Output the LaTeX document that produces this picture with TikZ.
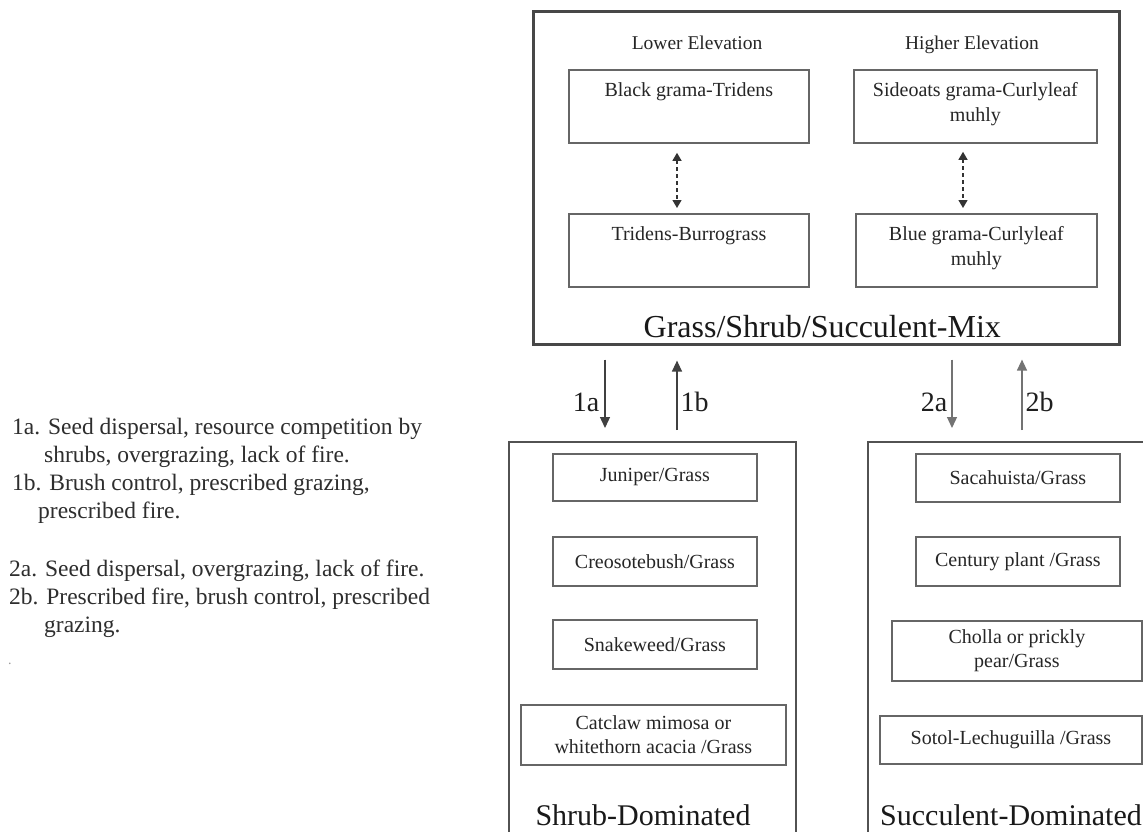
\documentclass[tikz,border=0pt]{standalone}
\usepackage{fontspec}
\setmainfont{Liberation Serif}
\usetikzlibrary{arrows.meta,calc}
\begin{document}
\begin{tikzpicture}[x=1pt,y=-1pt,
  mixbox/.style={draw=black!72,line width=2.6pt,inner sep=0pt,anchor=north west},
  outbox/.style={draw=black!68,line width=2.2pt,inner sep=0pt,anchor=north west},
  box/.style={draw=black!60,line width=1.8pt,inner sep=0pt,anchor=north west,align=center,
    text=black!85,font=\fontsize{20}{24}\selectfont},
  boxtext/.style={inner sep=0pt,anchor=north,align=center,text=black!85,
    font=\fontsize{20}{25}\selectfont},
  head/.style={inner sep=0pt,anchor=base,text=black!85,font=\fontsize{19.5}{24}\selectfont},
  title/.style={inner sep=0pt,anchor=base,text=black!90,font=\fontsize{30}{34}\selectfont},
  num/.style={inner sep=0pt,text=black!88,font=\fontsize{28}{32}\selectfont},
  legend/.style={inner sep=0pt,anchor=base west,text=black!82,font=\fontsize{23.5}{28}\selectfont},
  arr/.style={line width=1.3pt,draw=black!75,-{Triangle[length=11pt,width=10pt]}},
  arrlight/.style={line width=1.3pt,draw=black!55,-{Triangle[length=11pt,width=10pt]}},
  dasharr/.style={line width=1.3pt,draw=black!80,dash pattern=on 4pt off 3pt,
    {Triangle[length=8pt,width=9pt]}-{Triangle[length=8pt,width=9pt]}}
]
\useasboundingbox (0,0) rectangle (1143,832);
\fill[white] (0,0) rectangle (1143,832);
\clip (0,0) rectangle (1143,832);

% top box
\node[mixbox,minimum width=586pt,minimum height=333pt] (mix) at (532,10) {};
\node[head] (lowel) at (697,49.5) {Lower Elevation};
\node[head] (highel) at (972,49.5) {Higher Elevation};
\node[box,minimum width=240pt,minimum height=73pt] (bg) at (568,69) {};
\node[boxtext] (bgt) at ([yshift=-13.5pt]bg.north) {Black grama-Tridens};
\node[box,minimum width=243pt,minimum height=73pt] (so) at (853,69) {};
\node[boxtext] (sot) at ([yshift=-13.5pt]so.north) {Sideoats grama-Curlyleaf\\muhly};
\node[box,minimum width=240pt,minimum height=73pt] (tb) at (568,213) {};
\node[boxtext] (tbt) at ([yshift=-13.5pt]tb.north) {Tridens-Burrograss};
\node[box,minimum width=241pt,minimum height=73pt] (bl) at (855,213) {};
\node[boxtext] (blt) at ([yshift=-13.5pt]bl.north) {Blue grama-Curlyleaf\\muhly};
\node[title,font=\fontsize{32}{36}\selectfont] (mixt) at ([xshift=-4pt,yshift=8pt]mix.south) {Grass/Shrub/Succulent-Mix};

\coordinate (d1) at (677,0);
\coordinate (d2) at (963,0);
\draw[dasharr,shorten <=9pt,shorten >=5pt] (bg.south -| d1) -- (tb.north -| d1);
\draw[dasharr,shorten <=8pt,shorten >=5pt] (so.south -| d2) -- (bl.north -| d2);

% lower boxes
\node[outbox,minimum width=287pt,minimum height=420pt] (shrub) at (508,441) {};
\node[outbox,minimum width=292pt,minimum height=420pt] (succ) at (867,441) {};

\node[box,minimum width=204pt,minimum height=47pt] (jun) at (552,453) {Juniper/Grass};
\node[box,minimum width=204pt,minimum height=49pt] (cre) at (552,536) {Creosotebush/Grass};
\node[box,minimum width=204pt,minimum height=49pt] (sna) at (552,619) {Snakeweed/Grass};
\node[box,minimum width=265pt,minimum height=60pt] (cat) at (520,704) {Catclaw mimosa or\\whitethorn acacia /Grass};
\node[title] (shrubt) at (643,825) {Shrub-Dominated};

\node[box,minimum width=204pt,minimum height=48pt] (sac) at (915,453) {Sacahuista/Grass};
\node[box,minimum width=204pt,minimum height=49pt] (cen) at (915,536) {Century plant /Grass};
\node[box,minimum width=250pt,minimum height=60pt] (cho) at (891,620) {Cholla or prickly\\pear/Grass};
\node[box,minimum width=262pt,minimum height=48pt] (sotol) at (879,715) {Sotol-Lechuguilla /Grass};
\node[title] (succt) at (1011,825) {Succulent-Dominated};

% transitions
\coordinate (a1) at (605,0);
\coordinate (b1) at (677,0);
\coordinate (a2) at (952,0);
\coordinate (b2) at (1022,0);
\draw[arr,shorten <=14pt,shorten >=13pt] (mix.south -| a1) -- (shrub.north -| a1)
  node[num,anchor=base east,pos=0.686,xshift=-5pt] (l1a) {1a};
\draw[arr,shorten <=11pt,shorten >=15pt] (shrub.north -| b1) -- (mix.south -| b1)
  node[num,anchor=base west,pos=0.314,xshift=3pt] (l1b) {1b};
\draw[arrlight,shorten <=14pt,shorten >=13pt] (mix.south -| a2) -- (succ.north -| a2)
  node[num,anchor=base east,pos=0.686,xshift=-4pt] (l2a) {2a};
\draw[arrlight,shorten <=11pt,shorten >=14pt] (succ.north -| b2) -- (mix.south -| b2)
  node[num,anchor=base west,pos=0.314,xshift=3pt] (l2b) {2b};

% legend
\node[legend] (g1) at (12,434) {1a. Seed dispersal, resource competition by};
\node[legend] (g2) at (44,462) {shrubs, overgrazing, lack of fire.};
\node[legend] (g3) at (12,490) {1b. Brush control, prescribed grazing,};
\node[legend] (g4) at (38,518) {prescribed fire.};
\node[legend] (g5) at (9,576) {2a. Seed dispersal, overgrazing, lack of fire.};
\node[legend] (g6) at (9,604) {2b. Prescribed fire, brush control, prescribed};
\node[legend] (g7) at (44,632) {grazing.};
\node[inner sep=0pt,anchor=base west,text=black!40,font=\fontsize{14}{16}\selectfont] (dot) at (8,664) {.};
\end{tikzpicture}
\end{document}
